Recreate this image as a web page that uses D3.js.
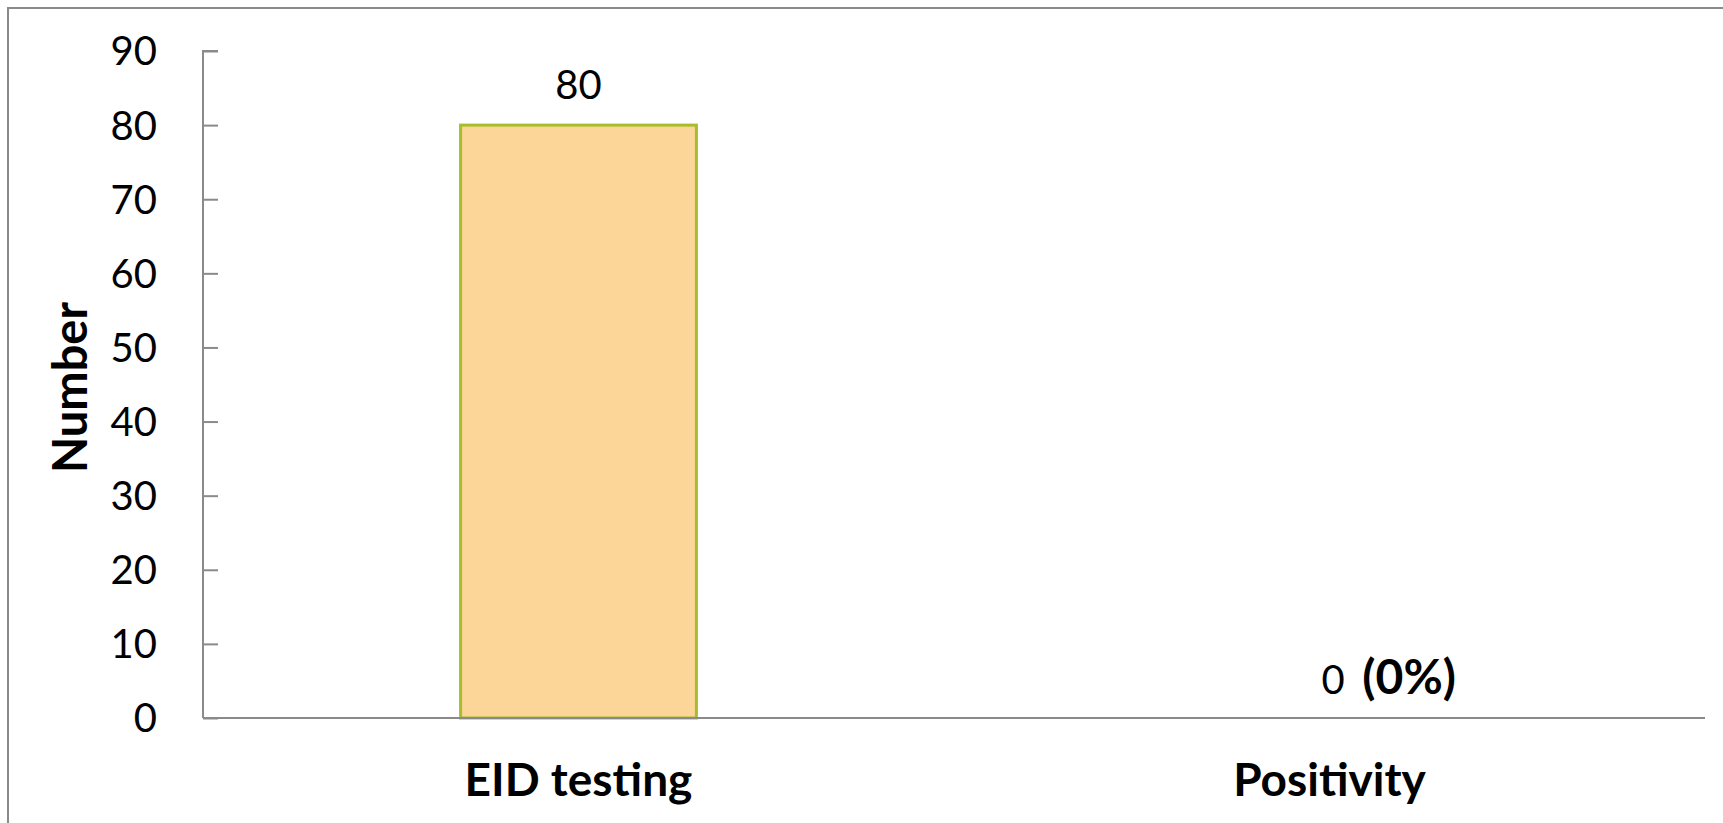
<!DOCTYPE html>
<html>
<head>
<meta charset="utf-8">
<script src="https://cdn.jsdelivr.net/npm/d3@7"></script>
<style>
  html, body { margin: 0; padding: 0; background: #fff; }
  svg { display: block; }
  text { font-family: Lato, "Open Sans", sans-serif; fill: #000; }
</style>
</head>
<body>
<svg id="chart" width="1723" height="823"></svg>
<script>
const categories = ["EID testing", "Positivity"];
const values = [80, 0];
const valueLabels = ["80", "0"];
const extraLabels = ["", "(0%)"];
const yTicks = [0, 10, 20, 30, 40, 50, 60, 70, 80, 90];
const yTitle = "Number";

const W = 1723, H = 823;
const margin = { left: 203, right: 18, top: 51, bottom: 105 };
const svg = d3.select("#chart");

// outer frame (top + left edges)
svg.append("path")
  .attr("d", `M8,${H} L8,8 L${W},8`)
  .attr("fill", "none").attr("stroke", "#8a8a8a").attr("stroke-width", 2);

const x = d3.scaleBand().domain(categories)
  .range([margin.left, W - margin.right])
  .paddingInner(0.686).paddingOuter(0.343);
const y = d3.scaleLinear().domain([0, 90]).range([H - margin.bottom, margin.top]);

// bars
svg.append("g").selectAll("rect").data(values).join("rect")
  .attr("x", (d, i) => x(categories[i]))
  .attr("y", d => y(d))
  .attr("width", x.bandwidth())
  .attr("height", d => y(0) - y(d))
  .attr("fill", d => d > 0 ? "#FCD699" : "none")
  .attr("stroke", d => d > 0 ? "#A8BD2B" : "none")
  .attr("stroke-width", 3);

// y axis
const yAxis = d3.axisRight(y).tickValues(yTicks).tickSize(15).tickFormat("");
const gy = svg.append("g").attr("transform", `translate(${margin.left},0)`).call(yAxis);
gy.select(".domain").attr("d", `M15,${y(90)}H0V${y(0)}`).attr("stroke", "#8a8a8a").attr("stroke-width", 2);
gy.selectAll(".tick line").attr("stroke", "#8a8a8a").attr("stroke-width", 2);

svg.append("g").selectAll("text").data(yTicks).join("text")
  .attr("x", margin.left - 46)
  .attr("y", d => y(d))
  .attr("dy", "0.36em")
  .attr("text-anchor", "end")
  .attr("font-size", 40)
  .text(d => d);

// x axis line
svg.append("line")
  .attr("x1", margin.left).attr("x2", W - margin.right)
  .attr("y1", y(0)).attr("y2", y(0))
  .attr("stroke", "#8a8a8a").attr("stroke-width", 2);

// category labels
svg.append("g").selectAll("text").data(categories).join("text")
  .attr("x", d => x(d) + x.bandwidth() / 2)
  .attr("y", y(0) + 78)
  .attr("text-anchor", "middle")
  .attr("font-size", 46)
  .attr("font-weight", "bold")
  .text(d => d);

// value labels
const vl = svg.append("g").selectAll("text").data(values).join("text")
  .attr("x", (d, i) => x(categories[i]) + x.bandwidth() / 2 + (d > 0 ? 0 : -8))
  .attr("y", d => y(d) - (d > 0 ? 26 : 24))
  .attr("text-anchor", d => d > 0 ? "middle" : "start")
  .attr("font-size", 40);
vl.append("tspan").text((d, i) => valueLabels[i]);
vl.append("tspan").attr("font-weight", "bold").attr("font-size", 48).attr("dx", 6)
  .text((d, i) => extraLabels[i] ? " " + extraLabels[i] : "");

// y title
svg.append("text")
  .attr("transform", `translate(87,${(y(0) + y(90)) / 2 + 3}) rotate(-90)`)
  .attr("text-anchor", "middle")
  .attr("font-size", 47)
  .attr("font-weight", "bold")
  .text(yTitle);
</script>
</body>
</html>
